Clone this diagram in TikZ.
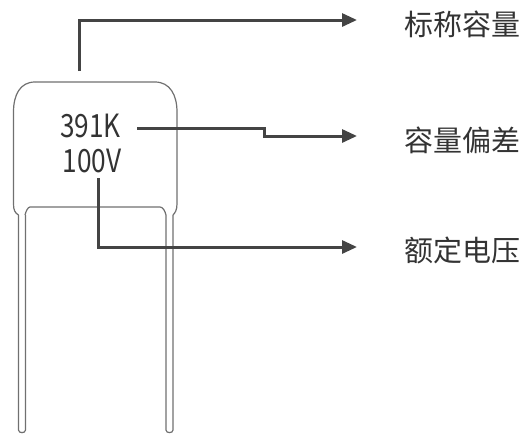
\documentclass[tikz,border=0pt]{standalone}
\usepackage{fontspec}
\setmainfont{Noto Sans CJK SC}
\newfontfamily\ValueFont[FakeStretch=0.82]{Noto Sans CJK SC}
\usepackage{tikz}
\usetikzlibrary{arrows.meta}
\definecolor{CalloutGray}{HTML}{444444}
\definecolor{BodyGray}{HTML}{707070}
\definecolor{InkGray}{HTML}{333333}
\def\Labels{Rated/20/35/标称容量, Tol/136/151/容量偏差, Volt/247/261/额定电压}
\newcommand{\TipX}{357}
\tikzset{Callout/.style={
		draw=CalloutGray,
		line width=3pt,
		-{Triangle[length=15pt,width=13pt]},
	},
	Outline/.style={
		draw=BodyGray,
		line width=1.2pt,
	},
	ValueText/.style={
		inner sep=0pt,
		text=InkGray,
		font=\ValueFont\fontsize{32}{36}\selectfont,
	},
	LabelText/.style={
		inner sep=0pt,
		text=InkGray,
		font=\fontsize{29}{32}\selectfont,
	}
}

\begin{document}
\begin{tikzpicture}[x=1pt, y=-1pt]
	\useasboundingbox (0,0) rectangle (523,434);
	% body of the capacitor
	\draw[Outline] (35,82) -- (155,82) .. controls (170,82) and (177,95) .. (177,112)
		-- (177,204) .. controls (177,210) and (175,213) .. (173,215);
	\draw[Outline] (166,215) .. controls (165,211) and (163,207) .. (160,207) -- (30,207)
		.. controls (28,207) and (26,211) .. (25,215);
	\draw[Outline] (18.5,215) .. controls (15,213) and (13.5,210) .. (13.5,204)
		-- (13.5,112) .. controls (13.5,95) and (20,82) .. (35,82);
	\coordinate (bodyTop) at (79,82);
	% leads
	\foreach \lx in {18.5,166}{%
		\draw[Outline] (\lx,215) -- (\lx,430) .. controls (\lx,433.5) and (\lx+7,433.5) .. (\lx+7,430) -- (\lx+7,215);
	}
	\node[ValueText, text height=22pt, text depth=0pt, anchor=base] (val391) at (90.5,137) {391K};
	\node[ValueText, text height=22pt, text depth=0pt, anchor=base] (val100) at (92,172) {100V};
	\foreach \name/\ypos/\base/\txt in \Labels{%
		\coordinate (tip\name) at (\TipX,\ypos);
		\node[LabelText, anchor=base west] (lbl\name) at (404,\base) {\txt};
	}
	\coordinate (kink) at (248,136);
	\draw[Callout, shorten <=11pt] (bodyTop) |- (tipRated);
	\draw[Callout] ([xshift=16pt,yshift=-2pt]val391.east) -- ([xshift=16pt,yshift=-2pt]val391.east -| kink) |- (tipTol);
	\draw[Callout, shorten <=6pt] ([xshift=6pt]val100.south) |- (tipVolt);
\end{tikzpicture}
\end{document}
